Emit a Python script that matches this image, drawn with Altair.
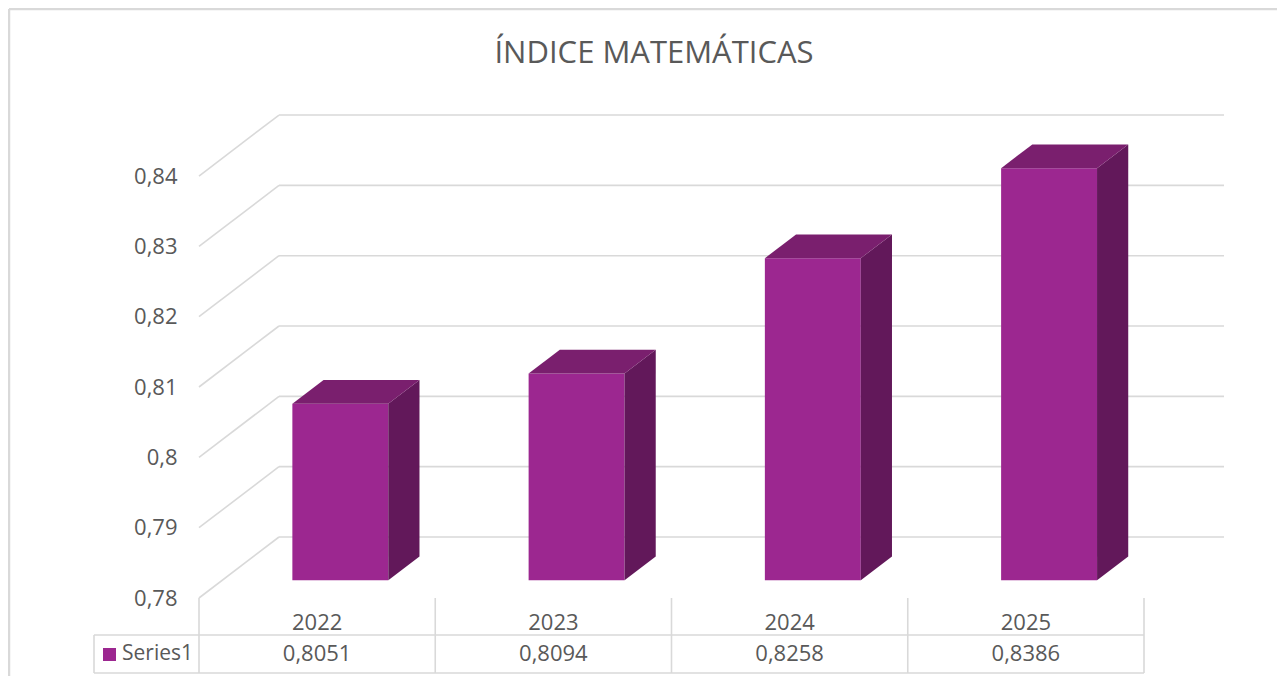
import altair as alt
import pandas as pd

# ---------------- data ----------------
years = ["2022", "2023", "2024", "2025"]
values = [0.8051, 0.8094, 0.8258, 0.8386]
value_labels = ["0,8051", "0,8094", "0,8258", "0,8386"]
series_name = "Series1"
title_text = "ÍNDICE MATEMÁTICAS"
tick_values = [0.78, 0.79, 0.80, 0.81, 0.82, 0.83, 0.84]

# ---------------- layout / style ----------------
BASE = 0.78
W, H = 1025, 485
CAT_PX = 236.25          # pixels per category on the front plane
UNIT_PX = 7033.0         # pixels per value unit
X_MAX = W / CAT_PX
Y_MAX = BASE + H / UNIT_PX
WALL_DX = 80 / CAT_PX    # depth projection (full depth)
WALL_DY = 61 / UNIT_PX
BAR_D0 = 0.29            # depth of bar front face
BAR_D = 0.39             # bar depth
BAR_W = 0.406            # bar width in categories

FRONT = "#9C2790"
SIDE = "#62185A"
TOP = "#7A1F6E"
GRID = "#D9D9D9"
TEXT = "#595959"
FONT = "Open Sans"

def below(px):
    return BASE - px / UNIT_PX

def left_of(px):
    return -px / CAT_PX

xs = alt.Scale(domain=[0, X_MAX], nice=False, zero=False)
ys = alt.Scale(domain=[BASE, Y_MAX], nice=False, zero=False)
y_axis = alt.Axis(values=tick_values,
                  labelExpr="replace(format(datum.value, '.2~f'), '.', ',')",
                  ticks=False, tickSize=0, domain=False, grid=False,
                  labelPadding=22, labelFontSize=22, labelFont=FONT,
                  labelColor=TEXT, title=None)

def X(field):
    return alt.X(f"{field}:Q", scale=xs, axis=None)

def Y(field):
    return alt.Y(f"{field}:Q", scale=ys, axis=y_axis)

# ---------------- walls ----------------
back_df = pd.DataFrame({"x": [WALL_DX] * len(tick_values),
                        "x2": [4 + WALL_DX] * len(tick_values),
                        "y": [v + WALL_DY for v in tick_values]})
back = alt.Chart(back_df).mark_rule(color=GRID, strokeWidth=1.6).encode(
    x=X("x"), x2="x2", y=Y("y"))

diag_df = pd.DataFrame({"x": [0.0] * len(tick_values),
                        "x2": [WALL_DX] * len(tick_values),
                        "y": tick_values,
                        "y2": [v + WALL_DY for v in tick_values]})
diag = alt.Chart(diag_df).mark_rule(color=GRID, strokeWidth=1.6).encode(
    x=X("x"), x2="x2", y=Y("y"), y2="y2")

# ---------------- bars ----------------
front_rows, side_rows, top_rows = [], [], []
ddx, ddy = BAR_D * WALL_DX, BAR_D * WALL_DY
for i, (yr, v) in enumerate(zip(years, values)):
    c = i + 0.5
    xl = c - BAR_W / 2 + BAR_D0 * WALL_DX
    xr = c + BAR_W / 2 + BAR_D0 * WALL_DX
    yb = BASE + BAR_D0 * WALL_DY
    yt = v + BAR_D0 * WALL_DY
    front_rows.append({"year": yr, "xl": xl, "xr": xr, "yb": yb, "yt": yt})
    side_rows.append({"year": yr, "x": xr, "lo": yb, "hi": yt})
    side_rows.append({"year": yr, "x": xr + ddx, "lo": yb + ddy, "hi": yt + ddy})
    top_rows.append({"year": yr, "y": yt, "xa": xl, "xb": xr})
    top_rows.append({"year": yr, "y": yt + ddy, "xa": xl + ddx, "xb": xr + ddx})

front = alt.Chart(pd.DataFrame(front_rows)).mark_rect(color=FRONT).encode(
    x=X("xl"), x2="xr", y=Y("yb"), y2="yt")
side = alt.Chart(pd.DataFrame(side_rows)).mark_area(color=SIDE, orient="vertical").encode(
    x=X("x"), y=Y("lo"), y2="hi", detail="year:N")
top = alt.Chart(pd.DataFrame(top_rows)).mark_area(color=TOP, orient="horizontal").encode(
    y=Y("y"), x=X("xa"), x2="xb", detail="year:N")

# ---------------- data table ----------------
vlines_df = pd.DataFrame({"x": [0, 1, 2, 3, 4],
                          "y": [BASE] * 5, "y2": [below(75)] * 5})
vlines = alt.Chart(vlines_df).mark_rule(color=GRID, strokeWidth=1.6).encode(
    x=X("x"), y=Y("y"), y2="y2")
hlines_df = pd.DataFrame({"x": [left_of(105)] * 2, "x2": [4, 4],
                          "y": [below(37), below(75)]})
hlines = alt.Chart(hlines_df).mark_rule(color=GRID, strokeWidth=1.6).encode(
    x=X("x"), x2="x2", y=Y("y"))
lline_df = pd.DataFrame({"x": [left_of(105)], "y": [below(37)], "y2": [below(75)]})
lline = alt.Chart(lline_df).mark_rule(color=GRID, strokeWidth=1.6).encode(
    x=X("x"), y=Y("y"), y2="y2")

years_df = pd.DataFrame({"x": [i + 0.5 for i in range(4)], "y": [below(25)] * 4,
                         "t": years})
years_txt = alt.Chart(years_df).mark_text(font=FONT, fontSize=22, color=TEXT,
                                          baseline="middle").encode(
    x=X("x"), y=Y("y"), text="t:N")
vals_df = pd.DataFrame({"x": [i + 0.5 for i in range(4)], "y": [below(56)] * 4,
                        "t": value_labels})
vals_txt = alt.Chart(vals_df).mark_text(font=FONT, fontSize=22, color=TEXT,
                                        baseline="middle").encode(
    x=X("x"), y=Y("y"), text="t:N")
name_df = pd.DataFrame({"x": [left_of(77)], "y": [below(56)], "t": [series_name]})
name_txt = alt.Chart(name_df).mark_text(font=FONT, fontSize=21, color=TEXT,
                                        align="left", baseline="middle").encode(
    x=X("x"), y=Y("y"), text="t:N")
key_df = pd.DataFrame({"x": [left_of(89.5)], "y": [below(56.5)]})
key = alt.Chart(key_df).mark_square(color=FRONT, opacity=1, size=169).encode(
    x=X("x"), y=Y("y"))

# ---------------- title (text mark placed above the plot area) ----------------
title_df = pd.DataFrame({"t": [title_text]})
title = alt.Chart(title_df).mark_text(font=FONT, fontSize=31, color=TEXT,
                                      align="center", baseline="alphabetic").encode(
    x=alt.value(455), y=alt.value(-50), text="t:N")

# ---------------- chart border ----------------
border_top = alt.Chart(key_df).mark_rule(color=GRID, strokeWidth=2.5).encode(
    x=alt.value(-190), x2=alt.value(W + 60), y=alt.value(-104))
border_left = alt.Chart(key_df).mark_rule(color=GRID, strokeWidth=2.5).encode(
    x=alt.value(-190), y=alt.value(-104), y2=alt.value(H + 90))

chart = alt.layer(
    back, diag, vlines, hlines, lline,
    front, side, top,
    years_txt, vals_txt, name_txt, key,
    title, border_top, border_left,
).properties(
    width=W, height=H,
    autosize=alt.AutoSizeParams(type="none"),
    padding={"left": 191, "top": 105, "right": 53, "bottom": 78},
    background="white",
).configure_view(stroke=None)

chart.save("out.html", embed_options={"renderer": "svg", "actions": False})
